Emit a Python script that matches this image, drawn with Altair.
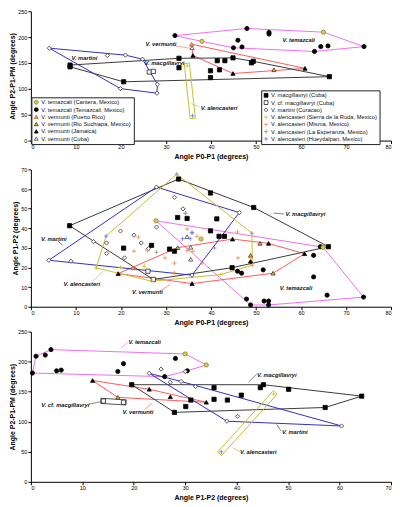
import math
import altair as alt
import pandas as pd

# ---------------- categories ----------------
TC = "V. temazcali (Cantera, Mexico)"
TT = "V. temazcali (Temazcali, Mexico)"
VP = "V. vermunti (Puerto Rico)"
VR = "V. vermunti (Rio Suchiapa, Mexico)"
VJ = "V. vermunti (Jamaica)"
VC = "V. vermunti (Cuba)"
MC = "V. macgillavryi (Cuba)"
CF = "V. cf. macgillavryi (Cuba)"
MA = "V. martini (Curacao)"
AS = "V. alencasteri (Sierra de la Ruda, Mexico)"
AM = "V. alencasteri (Misma, Mexico)"
AE = "V. alencasteri (La Esperanza, Mexico)"
AH = "V. alencasteri (Hueytlalpan, Mexico)"
LEG_A = [TC, TT, VP, VR, VJ, VC]
LEG_B = [MC, CF, MA, AS, AM, AE, AH]

PLUS = "M-1,0L1,0M0,-1L0,1"
SHAPES = {TC: "circle", TT: "circle", VP: "triangle-up", VR: "triangle-up", VJ: "triangle-up",
          VC: "triangle-up", MC: "square", CF: "square", MA: "diamond",
          AS: PLUS, AM: PLUS, AE: PLUS, AH: PLUS}
FILLS = {TC: "#d9cc4c", TT: "#000000", VP: "#f2a066", VR: "#d6c640", VJ: "#000000", VC: "#ffffff",
         MC: "#000000", CF: "#ffffff", MA: "#ffffff",
         AS: "transparent", AM: "transparent", AE: "transparent", AH: "transparent"}
STROKES = {TC: "#8c8430", TT: "#000000", VP: "#c0602a", VR: "#333333", VJ: "#000000", VC: "#444444",
           MC: "#000000", CF: "#222222", MA: "#333333",
           AS: "#d4bc1c", AM: "#f28a4a", AE: "#8c8c8c", AH: "#6f6ff2"}
HULL_SP = ["temazcali", "vermunti", "macgillavryi", "cf", "martini", "alencasteri"]
HULL_COL = ["#f26ef2", "#ff5a5a", "#3a3a3a", "#555555", "#2f2fc4", "#c4c030"]

# ---------------- panel 1 : P0-P1 vs P2-P1-PM ----------------
p1_TT = [(32.0, 203), (48.0, 216.7), (52.9, 209), (52.9, 206), (46.0, 194), (45.0, 179.4),
         (46.9, 181), (63.0, 172.3), (64.4, 181.7), (66.0, 183), (74.0, 181.7)]
p1_TC = [(38.0, 191.8), (65.0, 209.6)]
p1_VP = [(35.7, 186.2)]
p1_VR = [(54.0, 136.8)]
p1_VJ = [(36.0, 164.5), (44.9, 129.7), (60.9, 139.6)]
p1_VC = [(35.8, 179.4)]
p1_MC = [(8.7, 142.6), (8.7, 146.0), (20.6, 113.7), (32.9, 159.1), (32.9, 140.9), (41.4, 154.5),
         (43.1, 154.5), (44.9, 159.9), (49.4, 153.3), (49.0, 150.3), (39.9, 135.0), (41.9, 136.8),
         (39.9, 121.8), (66.3, 123.6)]
p1_CF = [(26.3, 132.5), (27.2, 133.7)]
p1_MA = [(4.1, 178.7), (17.0, 164.5), (21.0, 165.2), (24.8, 157.4), (28.1, 108.9), (28.0, 91.7),
         (19.9, 100.5)]
p1_AS = [(34.7, 144.4)]
p1_AH = [(35.9, 48.0)]
p1_lab_t = ["V. martini", "V. macgillavryi", "V. vermunti", "V. temazcali", "V. alencasteri"]
p1_lab_x = [11.9, 29.7, 28.9, 59.5, 41.8]
p1_lab_y = [159.4, 149.7, 187.0, 194.0, 62.7]
p1_lead = [(31.6, 184.0, 35.5, 178.2, "#ff7a7a"), (37.4, 65.7, 35.6, 71.6, "#c4c030")]

# ---------------- panel 2 : P0-P1 vs P1-P2 ----------------
p2_TT = [(45.9, 18.1), (46.8, 17.1), (51.6, 18.8), (62.8, 26.2), (62.8, 15.2), (65.8, 5.9),
         (73.9, 4.9), (47.9, 3.9), (48.8, 0.9), (51.8, 2.9), (52.8, 0.9), (52.8, 2.9), (64.3, 30.6)]
p2_TC = [(27.8, 43.8), (37.8, 34.5), (64.9, 30.3)]
p2_VP = [(22.7, 19.8)]
p2_VR = [(32.6, 30.1), (50.9, 32.3), (48.8, 26.2), (53.8, 17.1)]
p2_VJ = [(19.4, 16.9), (35.8, 11.8), (44.8, 34.5), (52.8, 32.3), (60.8, 27.0), (48.8, 23.2)]
p2_VC = [(34.7, 35.7), (35.5, 30.3), (35.5, 24.2)]
p2_MC = [(8.6, 41.3), (32.8, 65.1), (32.6, 45.5), (34.7, 45.0), (20.6, 29.9), (26.8, 31.3),
         (41.3, 44.8), (39.9, 58.0), (49.5, 50.6), (39.9, 38.7), (41.8, 35.9), (43.0, 35.9),
         (44.7, 19.9), (66.1, 30.6), (30.8, 29.4), (31.9, 28.3)]
p2_CF = [(27.2, 13.9), (26.0, 18.1)]
p2_MA = [(4.0, 23.7), (8.9, 23.2), (13.9, 33.2), (16.8, 27.2), (19.9, 38.6), (22.9, 36.5),
         (24.5, 32.5), (20.8, 24.9), (26.1, 29.6), (31.9, 55.8), (33.8, 49.9), (27.9, 61.0),
         (27.9, 40.6), (46.3, 48.0), (35.8, 16.1), (16.8, 32.5)]
p2_AS = [(14.5, 19.8), (19.9, 20.1), (25.2, 20.6), (42.2, 16.4), (26.9, 13.0)]
p2_AM = [(23.9, 35.5), (22.9, 28.3), (25.9, 28.6), (29.8, 24.9), (31.9, 22.3), (31.9, 17.3),
         (34.7, 39.6), (34.7, 28.6), (36.9, 35.9), (36.0, 28.3), (45.9, 38.1), (46.0, 24.9),
         (38.0, 22.3), (48.8, 24.9), (49.2, 21.2)]
p2_AE = [(27.9, 27.8), (35.8, 37.5), (40.8, 29.9), (49.1, 37.5), (32.4, 67.6)]
p2_AH = [(16.7, 36.0), (34.3, 47.7), (33.7, 34.7), (35.8, 37.9), (35.4, 34.7)]
p2_lab_t = ["V. martini", "V. alencasteri", "V. vermunti", "V. macgillavryi", "V. temazcali"]
p2_lab_x = [5.1, 11.3, 25.9, 61.0, 58.9]
p2_lab_y = [34.5, 11.8, 7.3, 47.2, 9.6]
p2_lead = [(5.9, 33.6, 7.1, 31.3, "#2f2fc4"), (13.8, 13.0, 16.0, 18.1, "#c4c030"),
           (28.7, 8.0, 30.9, 11.3, "#ff5a5a"), (53.9, 47.7, 56.2, 47.3, "#555555")]

# ---------------- panel 3 : P1-P2 vs P2-P1-PM ----------------
p3_TT = [(0.3, 181), (1.0, 209), (2.8, 211), (3.9, 220), (5.0, 184.8), (5.9, 185.9), (16.9, 183.6),
         (18.0, 196.6), (28.1, 205.3), (26.0, 175.0), (30.4, 184.8)]
p3_TC = [(30.0, 212.8), (34.1, 194.5)]
p3_VR = [(16.9, 140.5)]
p3_VJ = [(12.0, 168.6), (23.0, 154.0), (27.1, 141.5), (34.1, 132.4)]
p3_MC = [(19.6, 161.6), (31.1, 136.1), (30.1, 125.3), (27.9, 115.6), (35.6, 156.7), (35.6, 137.3),
         (38.2, 136.1), (40.9, 144.2), (44.6, 156.7), (45.2, 161.6), (50.1, 154.0), (57.2, 123.7),
         (64.3, 142.6)]
p3_CF = [(14.1, 134.5), (18.0, 132.4)]
p3_MA = [(23.0, 180.6), (27.1, 165.8), (29.2, 167.0), (32.0, 158.8), (40.2, 109.0), (38.1, 100.9),
         (60.4, 92.9)]
p3_MA_extra = [(25.3, 187.5), (30.0, 183.6)]
p3_AS = [(47.2, 145.9)]
p3_AH = [(37.0, 49.8)]
p3_lab_t = ["V. temazcali", "V. cf. macgillavryi", "V. vermunti", "V. macgillavryi", "V. martini",
            "V. alencasteri"]
p3_lab_x = [22.1, 6.7, 20.8, 47.8, 51.3, 44.2]
p3_lab_y = [232.3, 128.0, 115.6, 177.8, 82.2, 49.8]
p3_lead = [(18.8, 232.3, 17.5, 222.5, "#f26ef2"), (11.3, 129.2, 13.6, 133.4, "#555555"),
           (22.1, 119.9, 23.5, 130.8, "#ff5a5a"), (43.9, 179.4, 42.3, 165.8, "#555555"),
           (48.6, 84.8, 47.8, 95.6, "#2f2fc4"), (40.7, 49.8, 39.2, 56.7, "#c4c030")]

X_TICKS_80 = [0, 10, 20, 30, 40, 50, 60, 70, 80]
X_TICKS_70 = [0, 10, 20, 30, 40, 50, 60, 70]
Y_TICKS_250 = [0, 50, 100, 150, 200, 250]
Y_TICKS_70 = [0, 10, 20, 30, 40, 50, 60, 70]

W = 362
H1, H2, H3 = 130, 138, 151


def convex_hull(pts):
    pts = sorted(set(pts))
    if len(pts) <= 2:
        return pts

    def cross(o, a, b):
        return (a[0] - o[0]) * (b[1] - o[1]) - (a[1] - o[1]) * (b[0] - o[0])
    lower, upper = [], []
    for p in pts:
        while len(lower) >= 2 and cross(lower[-2], lower[-1], p) <= 0:
            lower.pop()
        lower.append(p)
    for p in reversed(pts):
        while len(upper) >= 2 and cross(upper[-2], upper[-1], p) <= 0:
            upper.pop()
        upper.append(p)
    return lower[:-1] + upper[:-1]


def thin_rect(p, q, kx, ky, r=2.6):
    ax, ay, bx, by = p[0] * kx, p[1] * ky, q[0] * kx, q[1] * ky
    L = math.hypot(bx - ax, by - ay)
    dx, dy = (bx - ax) / L, (by - ay) / L
    nx, ny = -dy, dx
    corners = [(ax - dx * r + nx * r, ay - dy * r + ny * r), (bx + dx * r + nx * r, by + dy * r + ny * r),
               (bx + dx * r - nx * r, by + dy * r - ny * r), (ax - dx * r - nx * r, ay - dy * r - ny * r)]
    return [(cx / kx, cy / ky) for cx, cy in corners]


def make_legend(lx, ly):
    return alt.Legend(title=None, orient="none", legendX=lx, legendY=ly,
                      labelFontSize=5.8, labelFont="Liberation Sans", labelColor="#111",
                      symbolSize=15, symbolStrokeWidth=0.8, clipHeight=6, rowPadding=1.3, padding=2,
                      strokeColor="#222", fillColor="white", labelLimit=300, labelOffset=2)


def panel(points, hulls, lab_t, lab_x, lab_y, leads, xdom, ydom, xt, yt, xticks, yticks, H, legends):
    kx = W / (xdom[1] - xdom[0])
    ky = H / (ydom[1] - ydom[0])
    xs = alt.Scale(domain=xdom, nice=False, zero=False)
    ys = alt.Scale(domain=ydom, nice=False, zero=False)
    X = alt.X("x:Q", scale=xs, axis=alt.Axis(title=xt, values=xticks, format="d"))
    Y = alt.Y("y:Q", scale=ys, axis=alt.Axis(title=yt, values=yticks, format="d"))

    hrows = []
    for g, (sp, pts, mode) in enumerate(hulls):
        poly = thin_rect(pts[0], pts[1], kx, ky) if mode == "rect" else convex_hull(pts)
        poly = poly + [poly[0]]
        for i, (x, y) in enumerate(poly):
            hrows.append({"grp": g, "sp": sp, "i": i, "x": x, "y": y})
    hull = alt.Chart(pd.DataFrame(hrows)).mark_line(strokeWidth=1).encode(
        x=X, y=Y, detail="grp:N", order="i:Q",
        stroke=alt.Stroke("sp:N", scale=alt.Scale(domain=HULL_SP, range=HULL_COL), legend=None))

    lrows = [{"x": a, "y": b, "x2": c, "y2": d, "c": col} for a, b, c, d, col in leads]
    lead = alt.Chart(pd.DataFrame(lrows)).mark_rule(strokeWidth=0.7).encode(
        x=X, y=Y, x2="x2:Q", y2="y2:Q", stroke=alt.Stroke("c:N", scale=None))

    layers = [hull, lead]
    for cats, key in ((LEG_A, "A"), (LEG_B, "B")):
        rows = [{"cat": c, "x": x, "y": y} for c, pl in points for (x, y) in pl if c in cats]
        if legends:
            lg = make_legend(0.5, 86.5) if key == "A" else make_legend(231.5, 79.5)
        else:
            lg = None
        layers.append(alt.Chart(pd.DataFrame(rows)).mark_point(opacity=1, strokeWidth=0.8, size=18).encode(
            x=X, y=Y,
            shape=alt.Shape("cat:N", scale=alt.Scale(domain=cats, range=[SHAPES[c] for c in cats]), legend=lg),
            fill=alt.Fill("cat:N", scale=alt.Scale(domain=cats, range=[FILLS[c] for c in cats]), legend=lg),
            stroke=alt.Stroke("cat:N", scale=alt.Scale(domain=cats, range=[STROKES[c] for c in cats]), legend=lg),
        ))

    tdf = pd.DataFrame({"t": lab_t, "x": lab_x, "y": lab_y})
    layers.append(alt.Chart(tdf).mark_text(fontStyle="italic", fontWeight="bold", fontSize=5.8,
                                           font="Liberation Sans", color="#111").encode(x=X, y=Y, text="t:N"))
    return alt.layer(*layers).resolve_scale(stroke="independent", fill="independent",
                                            shape="independent").properties(width=W, height=H)


p1 = panel(
    [(TT, p1_TT), (TC, p1_TC), (VP, p1_VP), (VR, p1_VR), (VJ, p1_VJ), (VC, p1_VC), (MC, p1_MC),
     (CF, p1_CF), (MA, p1_MA), (AS, p1_AS), (AH, p1_AH)],
    [("temazcali", p1_TT + p1_TC, "hull"), ("vermunti", p1_VP + p1_VR + p1_VJ + p1_VC, "hull"),
     ("macgillavryi", p1_MC, "hull"), ("martini", p1_MA, "hull"), ("alencasteri", p1_AS + p1_AH, "rect")],
    p1_lab_t, p1_lab_x, p1_lab_y, p1_lead, [0, 80], [0, 250],
    "Angle P0-P1 (degrees)", "Angle P2-P1-PM (degrees)", X_TICKS_80, Y_TICKS_250, H1, True)

p2 = panel(
    [(TT, p2_TT), (TC, p2_TC), (VP, p2_VP), (VR, p2_VR), (VJ, p2_VJ), (VC, p2_VC), (MC, p2_MC),
     (CF, p2_CF), (MA, p2_MA), (AS, p2_AS), (AM, p2_AM), (AE, p2_AE), (AH, p2_AH)],
    [("temazcali", p2_TT + p2_TC, "hull"), ("vermunti", p2_VP + p2_VR + p2_VJ, "hull"),
     ("macgillavryi", p2_MC + p2_CF, "hull"), ("martini", p2_MA, "hull"),
     ("alencasteri", p2_AS + p2_AM + p2_AE + p2_AH, "hull")],
    p2_lab_t, p2_lab_x, p2_lab_y, p2_lead, [0, 80], [0, 70],
    "Angle P0-P1 (degrees)", "Angle P1-P2 (degrees)", X_TICKS_80, Y_TICKS_70, H2, False)

p3 = panel(
    [(TT, p3_TT), (TC, p3_TC), (VR, p3_VR), (VJ, p3_VJ), (MC, p3_MC), (CF, p3_CF),
     (MA, p3_MA + p3_MA_extra), (AS, p3_AS), (AH, p3_AH)],
    [("temazcali", p3_TT + p3_TC, "hull"), ("vermunti", p3_VR + p3_VJ, "hull"),
     ("macgillavryi", p3_MC, "hull"), ("cf", p3_CF, "rect"), ("martini", p3_MA, "hull"),
     ("alencasteri", p3_AS + p3_AH, "rect")],
    p3_lab_t, p3_lab_x, p3_lab_y, p3_lead, [0, 70], [0, 250],
    "Angle P1-P2 (degrees)", "Angle P2-P1-PM (degrees)", X_TICKS_70, Y_TICKS_250, H3, False)

RES = dict(x="independent", y="independent", shape="independent", fill="independent", stroke="independent")
lower = alt.vconcat(p2, p3, spacing=4).resolve_scale(**RES)
chart = alt.vconcat(p1, lower, spacing=8).resolve_scale(**RES).properties(
    padding={"left": 0, "top": 0, "right": 0, "bottom": 0}
).configure_view(stroke=None).configure_axis(
    labelFont="Liberation Sans", labelFontSize=5.5, labelColor="black",
    titleFont="Liberation Sans", titleFontSize=7, titleFontWeight="bold", titleColor="black",
    domainColor="black", tickColor="black", tickSize=3, labelPadding=1, titlePadding=2, grid=False,
)

chart.save("out.html", embed_options={"renderer": "svg", "actions": False})
